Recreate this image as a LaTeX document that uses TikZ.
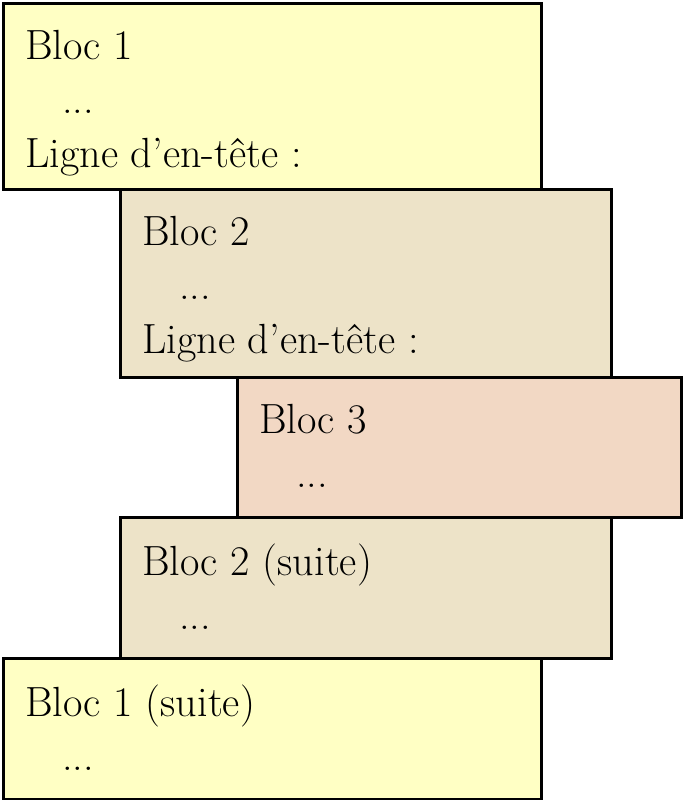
\documentclass[tikz,border=0pt]{standalone}
\usepackage{tikz}
\usetikzlibrary{positioning}
\definecolor{jaune}{HTML}{FFFFC4}
\definecolor{beige}{HTML}{EDE3C8}
\definecolor{rose}{HTML}{F2D8C4}
\newcommand{\suspens}{\hspace*{0.74cm}...}
\tikzset{
  bloc/.style={draw, line width=1.7pt, anchor=north west, inner sep=0pt},
  txt/.style={anchor=north west, align=left, inner sep=0pt,
    font=\fontsize{24}{30.6}\selectfont},
}
\begin{document}
\begin{tikzpicture}
  \useasboundingbox (0,0) rectangle (13.64,-16);
  % blocs
  \node[bloc, fill=jaune, minimum width=10.76cm, minimum height=3.72cm] (b1) at (0.04,-0.04) {};
  \node[bloc, fill=beige, minimum width=9.82cm, minimum height=3.76cm] (b2) at (2.38,-3.76) {};
  \node[bloc, fill=rose, minimum width=8.88cm, minimum height=2.8cm] (b3) at (4.72,-7.52) {};
  \node[bloc, fill=beige, minimum width=9.82cm, minimum height=2.82cm] (b4) at (2.38,-10.32) {};
  \node[bloc, fill=jaune, minimum width=10.76cm, minimum height=2.82cm] (b5) at (0.04,-13.14) {};
  % textes
  \node[txt] (t1) at ([shift={(0.46,-0.56)}]b1.north west) {Bloc 1\\\suspens\\Ligne d'en-t\^ete :};
  \node[txt] (t2) at ([shift={(0.46,-0.56)}]b2.north west) {Bloc 2\\\suspens\\Ligne d'en-t\^ete :};
  \node[txt] (t3) at ([shift={(0.46,-0.56)}]b3.north west) {Bloc 3\\\suspens};
  \node[txt] (t4) at ([shift={(0.46,-0.56)}]b4.north west) {Bloc 2 (suite)\\\suspens};
  \node[txt] (t5) at ([shift={(0.46,-0.56)}]b5.north west) {Bloc 1 (suite)\\\suspens};
\end{tikzpicture}
\end{document}
